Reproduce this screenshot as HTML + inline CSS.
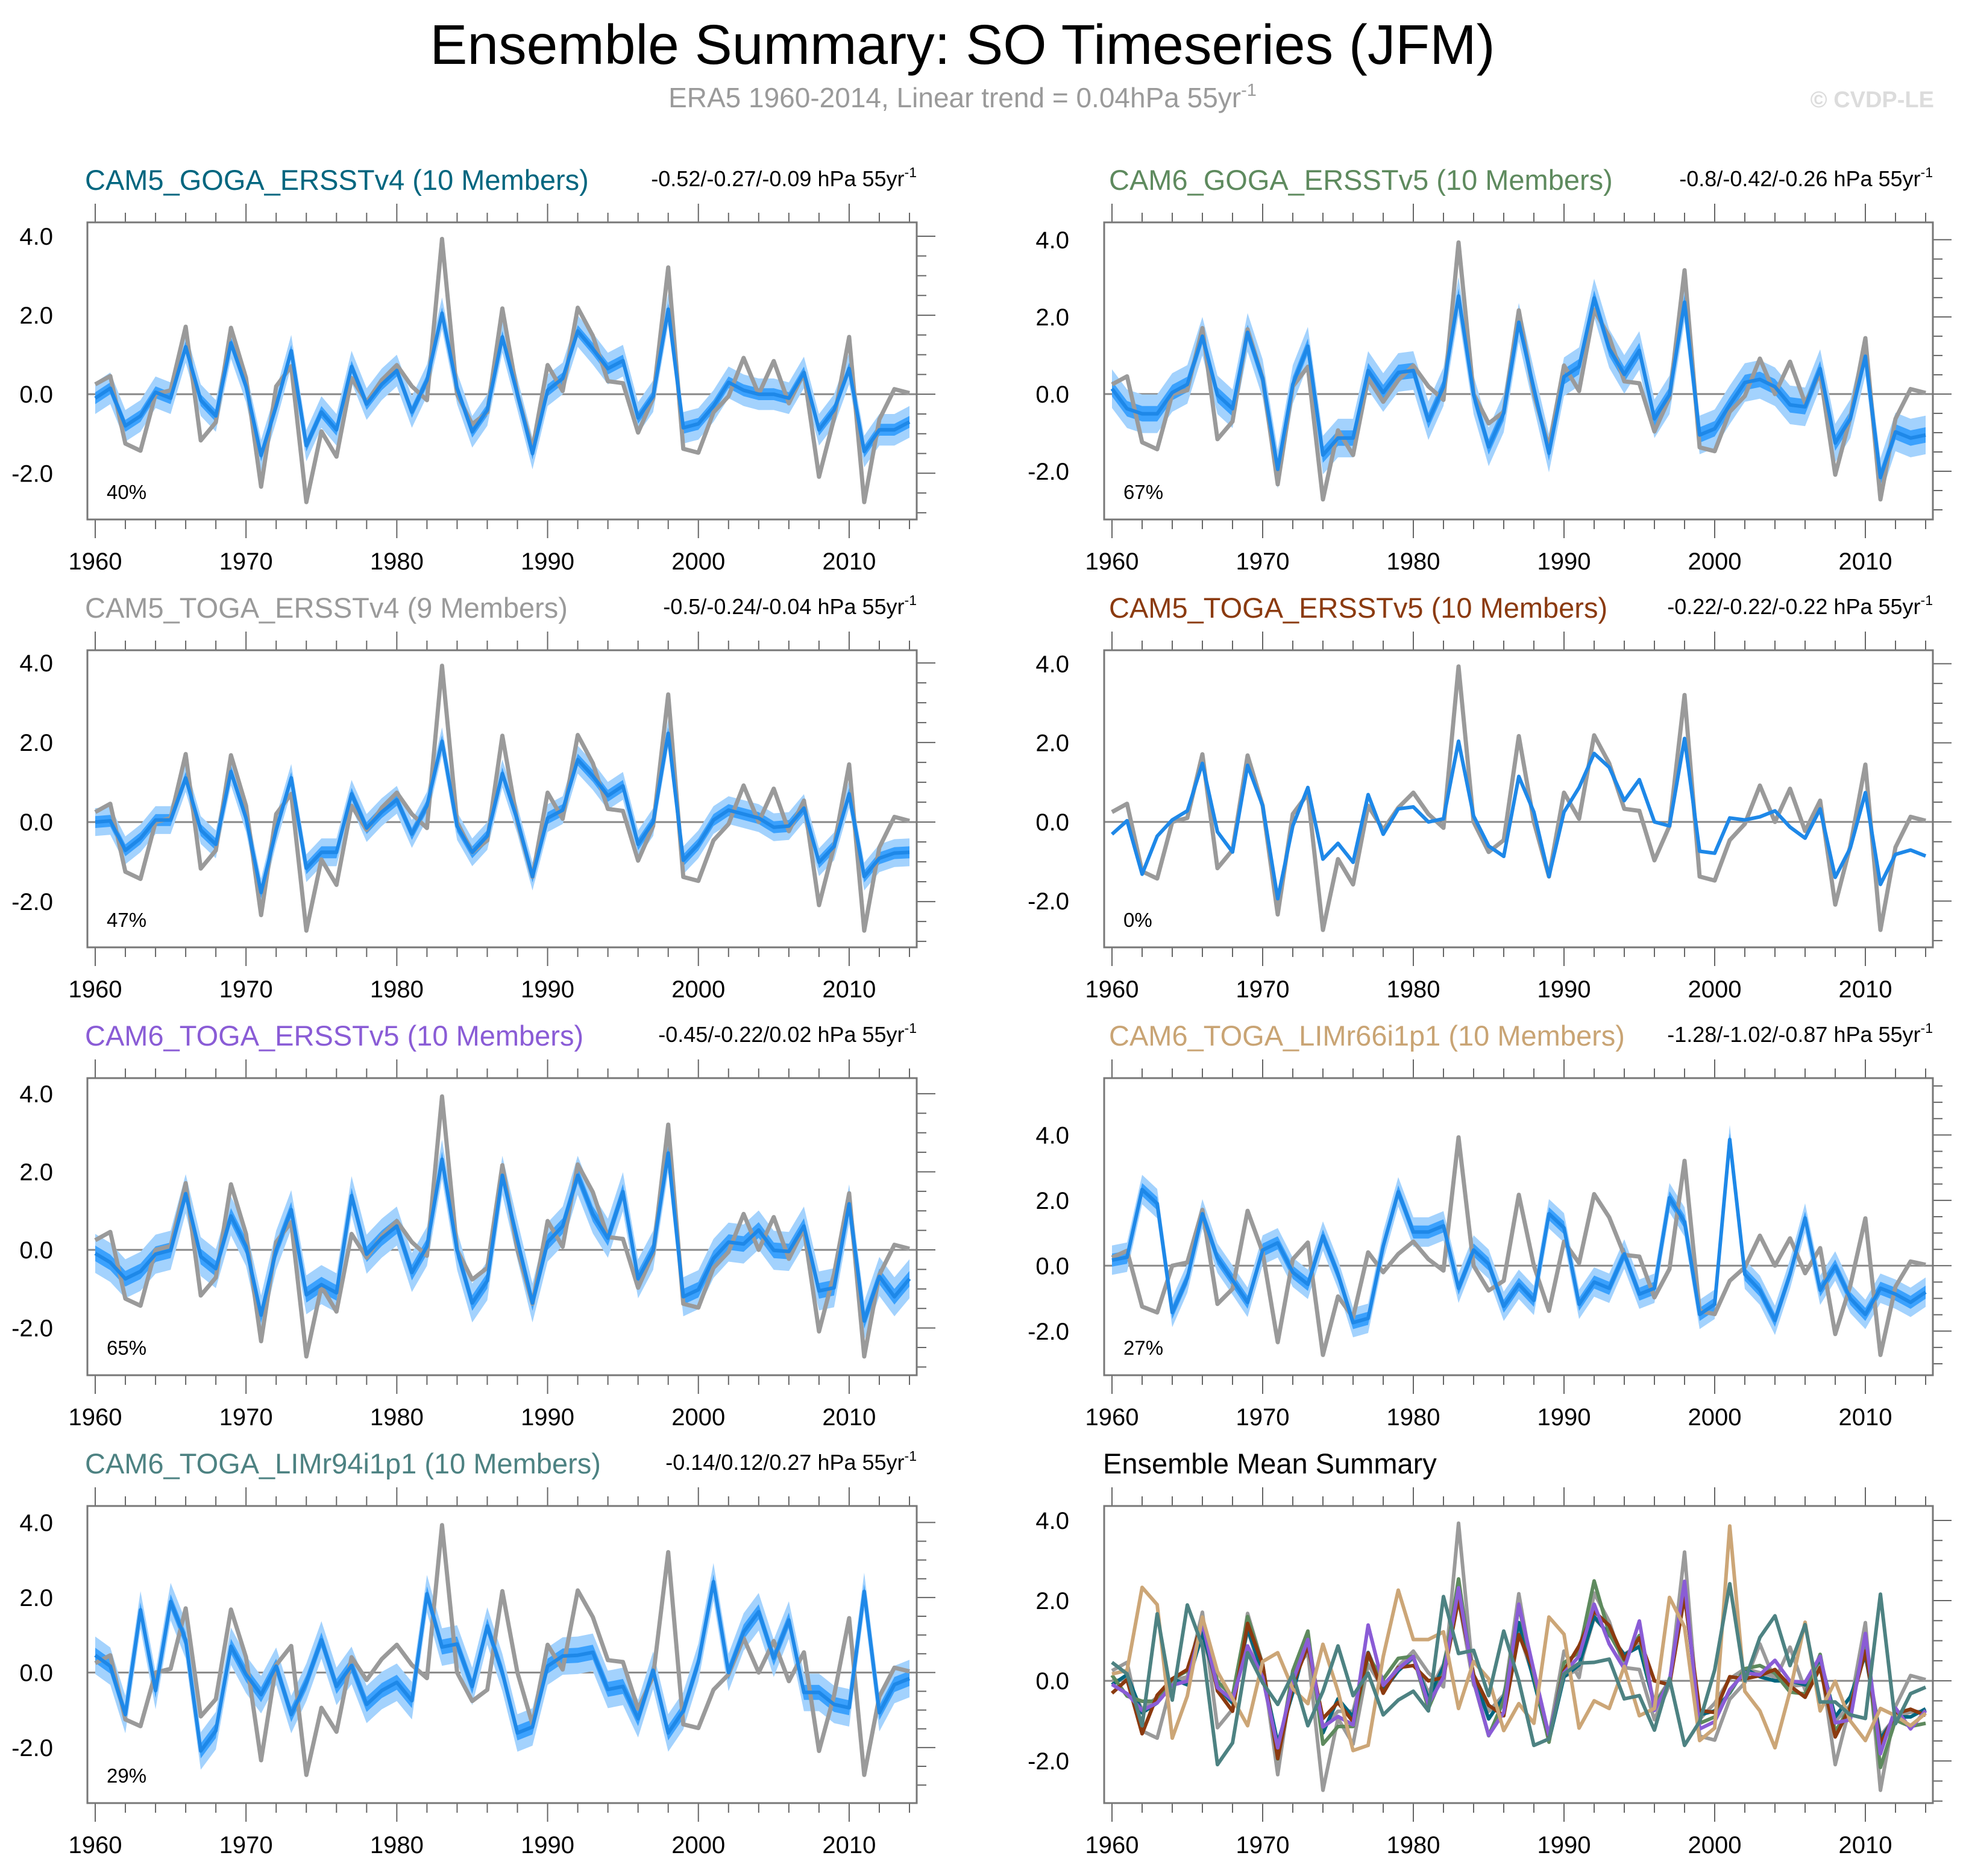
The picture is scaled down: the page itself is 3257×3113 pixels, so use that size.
<!DOCTYPE html>
<html><head><meta charset="utf-8"><style>
html,body{margin:0;padding:0;background:#fff}
svg{display:block;font-family:"Liberation Sans",sans-serif}
</style></head><body>
<svg id="chart" width="3257" height="3113" viewBox="0 0 3257 3113" xmlns="http://www.w3.org/2000/svg">
<text x="1597" y="106" text-anchor="middle" font-size="93" fill="#000">Ensemble Summary: SO Timeseries (JFM)</text>
<text x="1597" y="178" text-anchor="middle" font-size="46" fill="#9a9a9a">ERA5 1960-2014, Linear trend = 0.04hPa 55yr<tspan font-size="29" dy="-19">-1</tspan></text>
<text x="3209" y="178" text-anchor="end" font-size="38" font-weight="bold" fill="#dcdcdc">© CVDP-LE</text>
<g id="panels"></g>
</svg>
<script>
const years = [];
for (let y = 1960; y <= 2014; y++) years.push(y);
const obs = [0.25,0.46,-1.25,-1.43,0,0.1,1.71,-1.17,-0.71,1.68,0.41,-2.34,0.2,0.71,-2.73,-0.94,-1.58,0.41,-0.2,0.36,0.74,0.2,-0.15,3.93,0,-0.76,-0.46,2.17,0,-1.38,0.74,0.08,2.19,1.48,0.33,0.28,-0.97,-0.1,3.21,-1.38,-1.48,-0.46,-0.05,0.92,0,0.84,-0.23,0.54,-2.09,-0.61,1.45,-2.73,-0.64,0.13,0.03];
const m1 = [-0.1,0.15,-0.8,-0.55,0.05,-0.1,1.2,-0.15,-0.55,1.3,0.2,-1.55,-0.3,1.1,-1.3,-0.45,-0.9,0.7,-0.25,0.25,0.6,-0.45,0.35,2.05,0.15,-0.95,-0.4,1.45,0,-1.5,0.1,0.4,1.6,1.15,0.65,0.85,-0.6,-0.05,2.15,-0.85,-0.75,-0.3,0.3,0.1,0,0,-0.1,0.55,-0.9,-0.4,0.65,-1.45,-0.9,-0.9,-0.7];
const m2 = [0.14,-0.38,-0.51,-0.51,0.04,0.25,1.5,-0.02,-0.38,1.6,0.4,-1.95,0.25,1.24,-1.58,-1.14,-1.14,0.61,0.04,0.56,0.61,-0.69,0.19,2.54,-0.02,-1.37,-0.49,1.86,0.14,-1.53,0.45,0.71,2.49,1.18,0.51,1.13,-0.64,-0.02,2.38,-1.06,-0.9,-0.28,0.3,0.38,0.19,-0.28,-0.33,0.66,-1.27,-0.64,0.98,-2.16,-0.98,-1.14,-1.06];
const m3 = [0,0.03,-0.71,-0.41,0.05,0.05,1.11,-0.2,-0.56,1.27,0.1,-1.77,-0.2,1.11,-1.16,-0.76,-0.76,0.71,-0.15,0.25,0.56,-0.3,0.41,2.03,-0.1,-0.76,-0.35,1.22,0.05,-1.37,0.1,0.3,1.57,1.16,0.66,0.91,-0.56,0,2.23,-0.96,-0.56,0.05,0.3,0.2,0.1,-0.13,-0.1,0.35,-1.01,-0.61,0.71,-1.37,-0.91,-0.78,-0.76];
const m4 = [-0.31,0.03,-1.32,-0.36,0.05,0.28,1.48,-0.25,-0.76,1.43,0.41,-1.94,-0.1,0.87,-0.94,-0.54,-1.02,0.69,-0.31,0.33,0.38,0,0.08,2.04,0.15,-0.61,-0.87,1.15,0.25,-1.38,0.25,0.87,1.73,1.38,0.54,1.07,0,-0.1,2.11,-0.74,-0.79,0.1,0.05,0.13,0.28,-0.13,-0.41,0.33,-1.4,-0.66,0.74,-1.58,-0.82,-0.71,-0.86];
const m5 = [-0.09,-0.32,-0.74,-0.55,-0.11,-0.01,1.44,-0.17,-0.48,0.87,0.09,-1.67,-0.01,1.03,-1.15,-0.89,-1.1,1.39,-0.11,0.3,0.61,-0.58,0.09,2.32,-0.01,-1.36,-0.79,1.91,0.25,-1.36,0.2,0.61,1.91,0.92,0.3,1.49,-0.74,-0.01,2.48,-1.2,-1.02,-0.22,0.2,0.15,0.51,-0.01,-0.04,0.61,-1.05,-0.97,1.18,-1.82,-0.68,-1.2,-0.74];
const m6 = [0.17,0.26,2.33,1.9,-1.43,-0.38,1.59,0.23,-0.44,-1.12,0.48,0.7,-0.2,-0.57,0.91,-0.26,-1.74,-1.61,0.6,2.26,1.03,1.03,1.22,-0.69,0.48,0.05,-1.24,-0.57,-1.06,1.59,1.16,-1.18,-0.5,-0.69,0.36,-0.87,-0.69,2.08,1.34,-1.49,-1.18,3.86,-0.26,-0.75,-1.67,-0.26,1.46,-0.75,-0.01,-1,-1.49,-0.69,-0.87,-1.12,-0.81];
const m7 = [0.46,0.17,-1.12,1.67,-0.48,1.89,0.87,-2.09,-1.55,0.7,-0.05,-0.59,0.17,-1.12,-0.26,0.87,-0.37,0.19,-0.85,-0.48,-0.26,-0.75,2.1,0.68,0.76,-0.37,1.24,0,-1.61,-1.45,0.17,0.44,0.46,0.54,-0.45,-0.37,-1.23,0.06,-1.61,-1.02,0.27,2.42,0,1.08,1.62,0.38,1.4,-0.53,-0.53,-0.85,-0.94,2.16,-1.07,-0.32,-0.16];
const panelTitles = ["CAM5_GOGA_ERSSTv4 (10 Members)","CAM6_GOGA_ERSSTv5 (10 Members)","CAM5_TOGA_ERSSTv4 (9 Members)","CAM5_TOGA_ERSSTv5 (10 Members)","CAM6_TOGA_ERSSTv5 (10 Members)","CAM6_TOGA_LIMr66i1p1 (10 Members)","CAM6_TOGA_LIMr94i1p1 (10 Members)","Ensemble Mean Summary"];
const trendLabels = ["-0.52/-0.27/-0.09 hPa 55yr","-0.8/-0.42/-0.26 hPa 55yr","-0.5/-0.24/-0.04 hPa 55yr","-0.22/-0.22/-0.22 hPa 55yr","-0.45/-0.22/0.02 hPa 55yr","-1.28/-1.02/-0.87 hPa 55yr","-0.14/0.12/0.27 hPa 55yr",""];
const percentLabels = ["40%","67%","47%","0%","65%","27%","29%",""];
const innerSpread = [0.15,0.2,0.15,0,0.2,0.2,0.2];
const outerSpread = [0.4,0.5,0.35,0,0.5,0.45,0.5];
const yTickValues = [-2,0,2,4];
const xTickYears = [1960,1970,1980,1990,2000,2010];

const means = [m1,m2,m3,m4,m5,m6,m7];
const titleColors = ["#00667f","#5e8a5e","#9a9a9a","#8b3a0f","#8a5cd6","#c9a474","#4d8282","#000"];
const yRanges = [[-3.17,4.35],[-3.25,4.45],[-3.15,4.32],[-3.17,4.34],[-3.21,4.4],[-3.35,5.74],[-3.48,4.44],[-3.05,4.36]];
const NS = "http://www.w3.org/2000/svg";
const root = document.getElementById("panels");
function mk(tag, attrs, parent){const e=document.createElementNS(NS,tag);for(const k in attrs)e.setAttribute(k,attrs[k]);(parent||root).appendChild(e);return e;}

for (let p = 0; p < 8; p++) {
  const col = p % 2, row = Math.floor(p/2);
  const bx0 = col ? 1832 : 145, bx1 = col ? 3207 : 1521;
  const by0 = 369 + row*710, by1 = by0 + 493;
  const [ymin, ymax] = yRanges[p];
  const xs = y => (bx0+13) + (y-1960)*((bx1-12)-(bx0+13))/54;
  const ys = v => by1 - (v-ymin)*(by1-by0)/(ymax-ymin);
  const g = mk("g", {});
  
  

  const t = mk("text", {x: col? (p==7?1830:1840) : 141, y: by0-54, "font-size": 47, fill: titleColors[p]}, g);
  t.textContent = panelTitles[p];
  
  
  if (trendLabels[p]) {
    const tr = mk("text", {x: bx1, y: by0-60, "font-size": 36, "text-anchor":"end", fill:"#000"}, g);
    tr.textContent = trendLabels[p];
    const sup = mk("tspan", {"font-size": 23, dy: -15}, tr);
    sup.textContent = "-1";
    
    
  }
  for (let y = 1960; y <= 2014; y += 2) {
    const major = (y % 10 === 0);
    const L = major ? 31 : 16;
    mk("line",{x1:xs(y),x2:xs(y),y1:by1,y2:by1+L,stroke:"#666","stroke-width":2},g);
    mk("line",{x1:xs(y),x2:xs(y),y1:by0,y2:by0-L,stroke:"#666","stroke-width":2},g);
  }
  for (let v = Math.ceil(ymin*2)/2; v <= ymax; v += 0.5) {
    const major = Math.abs(v/2 - Math.round(v/2)) < 1e-6;
    mk("line",{x1:bx1,x2:bx1+(major?31:16),y1:ys(v),y2:ys(v),stroke:"#666","stroke-width":2},g);
  }
  xTickYears.forEach(y => {
    const tx = mk("text",{x:xs(y),y:by1+83,"font-size":40,"text-anchor":"middle",fill:"#000"},g);
    tx.textContent = y;
    
    
  });
  yTickValues.forEach(v => {
    const ty = mk("text",{x:col?1774:88,y:ys(v)+14,"font-size":40,"text-anchor":"end",fill:"#000"},g);
    ty.textContent = v.toFixed(1);
    
    
  });
  mk("line",{x1:bx0,x2:bx1,y1:ys(0),y2:ys(0),stroke:"#888","stroke-width":3},g);

  if (p < 7) {
    const m = means[p];
    const band = (w, color, name) => {
      if (!w) return;
      let d = "";
      years.forEach((y,i)=>{d += (i?"L":"M") + xs(y).toFixed(1) + "," + ys(m[i]+w).toFixed(1);});
      for (let i = years.length-1; i >= 0; i--) d += "L" + xs(years[i]).toFixed(1) + "," + ys(m[i]-w).toFixed(1);
      const b = mk("path",{d:d+"Z",fill:color,stroke:"none"},g);
      
      
    };
    band(outerSpread[p], "#a3d2fd", "spread-outer-band");
    band(innerSpread[p], "#3ba1fd", "spread-inner-band");
    const line = (arr, color, w, name) => {
      const pts = years.map((y,i)=>xs(y).toFixed(1)+","+ys(arr[i]).toFixed(1)).join(" ");
      const l = mk("polyline",{points:pts,fill:"none",stroke:color,"stroke-width":w,"stroke-linejoin":"round"},g);
      
      
    };
    line(obs, "#9a9a9a", 7, "observed-line");
    line(m, "#1e88e8", 6, "ensemble-mean-line");
    const pc = mk("text",{x:bx0+32,y:by0+459,"font-size":33,fill:"#000"},g);
    pc.textContent = percentLabels[p];
    
    
  } else {
    const line = (arr, color, w, name) => {
      const pts = years.map((y,i)=>xs(y).toFixed(1)+","+ys(arr[i]).toFixed(1)).join(" ");
      const l = mk("polyline",{points:pts,fill:"none",stroke:color,"stroke-width":w,"stroke-linejoin":"round"},g);
      
      
    };
    line(obs, "#9a9a9a", 6, "observed-line");
    line(m3, "#9a9a9a", 6, "summary-cam5-toga-v4");
    line(m1, "#00667f", 6, "summary-cam5-goga");
    line(m2, "#5e8a5e", 6, "summary-cam6-goga");
    line(m4, "#8b3a0f", 6, "summary-cam5-toga-v5");
    line(m5, "#8a5cd6", 6, "summary-cam6-toga-v5");
    line(m6, "#cca677", 6, "summary-lim66");
    line(m7, "#4d8282", 6, "summary-lim94");
  }
  const box = mk("rect",{x:bx0,y:by0,width:bx1-bx0,height:by1-by0,fill:"none",stroke:"#777","stroke-width":3},g);
  
  
}
</script>
</body></html>
